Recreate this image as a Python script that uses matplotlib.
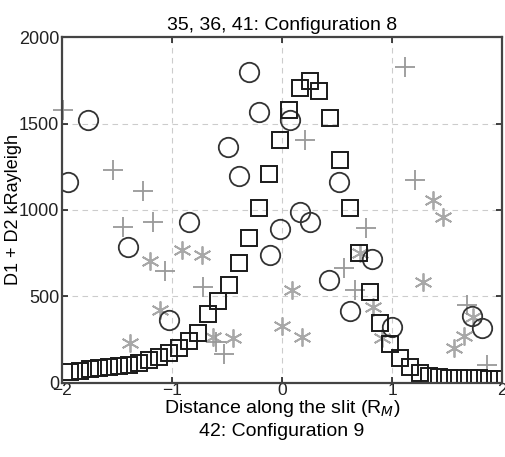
import matplotlib
matplotlib.use("Agg")
import matplotlib.pyplot as plt

plt.rcParams['font.family'] = ['Liberation Sans', 'DejaVu Sans']

# squares: D1 + D2 profile (black)
sq_x = [-1.93, -1.84, -1.75, -1.66, -1.57, -1.48, -1.39, -1.30, -1.21, -1.12,
        -1.03, -0.94, -0.85, -0.76, -0.67, -0.58, -0.48, -0.39, -0.30, -0.21,
        -0.12, -0.02, 0.06, 0.16, 0.25, 0.34, 0.44, 0.53, 0.62, 0.70,
        0.80, 0.89, 0.98, 1.07, 1.16, 1.25, 1.34, 1.43, 1.52, 1.61,
        1.70, 1.79, 1.88, 1.97]
sq_y = [66, 72, 78, 84, 90, 97, 104, 116, 130, 148,
        172, 205, 245, 290, 400, 474, 568, 694, 840, 1011,
        1208, 1405, 1578, 1705, 1746, 1688, 1532, 1289, 1011, 751,
        526, 347, 225, 142, 92, 58, 40, 33, 30, 28,
        27, 26, 25, 25]

# circles
ci_x = [-1.95, -1.76, -1.40, -1.03, -0.85, -0.49, -0.39, -0.30, -0.21, -0.11,
        -0.02, 0.07, 0.16, 0.25, 0.43, 0.52, 0.62, 0.82, 1.00, 1.73, 1.82]
ci_y = [1162, 1520, 786, 364, 930, 1364, 1197, 1800, 1566, 738,
        890, 1520, 988, 931, 595, 1162, 416, 716, 324, 387, 318]

# plus markers (gray)
pl_x = [-1.99, -1.54, -1.45, -1.26, -1.17, -1.06, -0.72, -0.60, -0.53,
        0.21, 0.56, 0.66, 0.76, 1.12, 1.21, 1.68, 1.86]
pl_y = [1580, 1231, 902, 1110, 931, 650, 552, 235, 167,
        1405, 665, 540, 896, 1827, 1173, 451, 104]

# asterisks (light gray)
as_x = [-1.38, -1.20, -1.11, -0.91, -0.73, -0.63, -0.45, 0.00, 0.09, 0.18,
        0.71, 0.83, 0.91, 1.28, 1.37, 1.46, 1.56, 1.65, 1.74]
as_y = [231, 705, 422, 769, 740, 266, 260, 329, 538, 266,
        751, 439, 260, 584, 1058, 960, 202, 272, 381]

fig = plt.figure(figsize=(5.05, 4.57), dpi=100)
ax = fig.add_axes([0.1228, 0.162, 0.8713, 0.757])

ax.plot(as_x, as_y, linestyle='none', marker=(6, 2, 0), markersize=13,
        markeredgecolor='#a8a8a8', markeredgewidth=1.3, clip_on=False)
ax.plot(pl_x, pl_y, linestyle='none', marker='+', markersize=15,
        markeredgecolor='#999999', markeredgewidth=1.3, clip_on=False)
ax.plot(ci_x, ci_y, linestyle='none', marker='o', markersize=14,
        markerfacecolor='none', markeredgecolor='#333333', markeredgewidth=1.3)
ax.plot(sq_x, sq_y, linestyle='none', marker='s', markersize=11,
        markerfacecolor='none', markeredgecolor='#1a1a1a', markeredgewidth=1.4)

ax.set_xlim(-2, 2)
ax.set_ylim(0, 2000)
ax.set_xticks([-2, -1, 0, 1, 2])
ax.set_yticks([0, 500, 1000, 1500, 2000])
ax.grid(True, linestyle=(0, (5, 4)), color='#cccccc', linewidth=0.8)
ax.tick_params(direction='in', top=True, right=True, length=4, width=1.2,
               labelsize=13, colors='#222222')
ax.tick_params(axis='x', pad=0, labelsize=12.5)
ax.tick_params(axis='y', pad=2)
for s in ax.spines.values():
    s.set_linewidth(1.6)
    s.set_color('#444444')

ax.set_title('35, 36, 41: Configuration 8', fontsize=14, pad=5)
ax.set_xlabel('Distance along the slit (R$_M$)\n42: Configuration 9', fontsize=14,
              labelpad=0, linespacing=1.3)
ax.set_ylabel('D1 + D2 kRayleigh', fontsize=13, labelpad=-2)

fig.savefig('out.png', dpi=100)
